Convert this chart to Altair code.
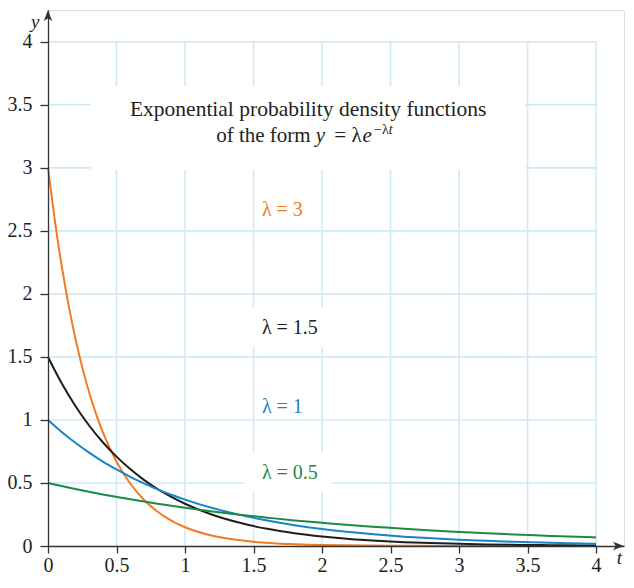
import altair as alt
import pandas as pd

# ---------------- data ----------------
t_l3 = [0, 0.05, 0.1, 0.15, 0.2, 0.25, 0.3, 0.35, 0.4, 0.5, 0.6, 0.7, 0.8, 0.9, 1.0,
        1.1, 1.2, 1.3, 1.4, 1.5, 1.6, 1.7, 1.8, 1.9, 2.0, 2.5, 3.0, 3.5, 4.0]
y_l3 = [3.0, 2.582, 2.222, 1.913, 1.646, 1.417, 1.220, 1.050, 0.904, 0.669, 0.496, 0.367,
        0.272, 0.202, 0.149, 0.111, 0.082, 0.061, 0.045, 0.033, 0.025, 0.018, 0.014,
        0.010, 0.007, 0.002, 0.0004, 0.0001, 0.0]

t_l15 = [0, 0.1, 0.2, 0.3, 0.4, 0.5, 0.6, 0.7, 0.8, 0.9, 1.0, 1.2, 1.4, 1.6, 1.8, 2.0,
         2.2, 2.4, 2.6, 2.8, 3.0, 3.2, 3.4, 3.6, 3.8, 4.0]
y_l15 = [1.5, 1.291, 1.111, 0.956, 0.823, 0.709, 0.610, 0.525, 0.452, 0.389, 0.335,
         0.248, 0.184, 0.136, 0.101, 0.075, 0.055, 0.041, 0.030, 0.023, 0.017, 0.012,
         0.009, 0.007, 0.005, 0.004]

t_l1 = [0, 0.1, 0.2, 0.3, 0.4, 0.5, 0.6, 0.7, 0.8, 0.9, 1.0, 1.2, 1.4, 1.6, 1.8, 2.0,
        2.2, 2.4, 2.6, 2.8, 3.0, 3.2, 3.4, 3.6, 3.8, 4.0]
y_l1 = [1.0, 0.905, 0.819, 0.741, 0.670, 0.607, 0.549, 0.497, 0.449, 0.407, 0.368,
        0.301, 0.247, 0.202, 0.165, 0.135, 0.111, 0.091, 0.074, 0.061, 0.050, 0.041,
        0.033, 0.027, 0.022, 0.018]

t_l05 = [0, 0.2, 0.4, 0.6, 0.8, 1.0, 1.2, 1.4, 1.6, 1.8, 2.0, 2.2, 2.4, 2.6, 2.8, 3.0,
         3.2, 3.4, 3.6, 3.8, 4.0]
y_l05 = [0.5, 0.452, 0.409, 0.370, 0.335, 0.303, 0.274, 0.248, 0.225, 0.203, 0.184,
         0.166, 0.151, 0.136, 0.123, 0.112, 0.101, 0.091, 0.083, 0.075, 0.068]

series_names = ["λ = 3", "λ = 1.5", "λ = 1", "λ = 0.5"]
series_colors = ["#f37a22", "#1e1e1e", "#1784c7", "#1a8a45"]

tick_values = [0, 0.5, 1, 1.5, 2, 2.5, 3, 3.5, 4]
grid_values = [0.5, 1, 1.5, 2, 2.5, 3, 3.5, 4]

# label positions (data units)
label_x = [1.561, 1.561, 1.561, 1.561]
label_y = [2.617, 1.68, 1.055, 0.531]

# white boxes behind text
box_x1 = [0.312, 1.43, 1.43]
box_x2 = [3.48, 2.07, 2.07]
box_y1 = [2.984, 1.578, 0.43]
box_y2 = [3.648, 1.89, 0.742]

X_MAX = 4.204
Y_MAX = 4.252
FONT = "Liberation Serif"
TXT = "#231f20"
GRID = "#cfeaf7"
AX = "#333333"

# ---------------- tables ----------------
rows = []
for name, ts, ys in zip(series_names, [t_l3, t_l15, t_l1, t_l05], [y_l3, y_l15, y_l1, y_l05]):
    for t, y in zip(ts, ys):
        rows.append({"series": name, "t": t, "y": y})
curves = pd.DataFrame(rows)

vgrid = pd.DataFrame({"gx": grid_values, "y0": 0, "y1": 4})
hgrid = pd.DataFrame({"gy": grid_values, "x0": 0, "x1": 4})
boxes = pd.DataFrame({"x1": box_x1, "x2": box_x2, "y1": box_y1, "y2": box_y2})
labels = pd.DataFrame({"x": label_x, "y": label_y, "text": series_names})

title_center = pd.DataFrame({"x": [1.899], "y": [3.41],
                             "text": ["Exponential probability density functions"]})
title_right = pd.DataFrame({"x": [1.917], "y": [3.203], "text": ["of the form"]})
title_left = pd.DataFrame({"x": [2.09, 2.215], "y": [3.203, 3.203], "text": ["=", "λ"]})
title_italic = pd.DataFrame({"x": [1.954, 2.295], "y": [3.203, 3.203], "text": ["y", "e"]})
title_sup = pd.DataFrame({"x": [2.38], "y": [3.265], "text": ["−λ"]})
title_sup_it = pd.DataFrame({"x": [2.487], "y": [3.265], "text": ["t"]})

axis_titles = pd.DataFrame({"x": [-0.094, 4.17], "y": [4.11, -0.145], "text": ["y", "t"]})
arrow_x = pd.DataFrame({"x": [X_MAX], "y": [0]})
arrow_y = pd.DataFrame({"x": [0], "y": [Y_MAX]})

xs = alt.Scale(domain=[0, X_MAX], nice=False, zero=False)
ys = alt.Scale(domain=[0, Y_MAX], nice=False, zero=False)

axis_common = dict(
    values=tick_values, format="~g", grid=False, title=None,
    labelFont=FONT, labelFontSize=20, labelColor=TXT,
    domainColor=AX, tickColor=AX, domainWidth=1.3, tickWidth=1.3,
    labelFlush=False, labelOverlap=False, zindex=2,
)
x_axis = alt.Axis(tickSize=7, labelPadding=2, **axis_common)
y_axis = alt.Axis(tickSize=8, labelPadding=8, **axis_common)


def X(field):
    return alt.X(field, type="quantitative", scale=xs, axis=x_axis)


def Y(field):
    return alt.Y(field, type="quantitative", scale=ys, axis=y_axis)


vg = alt.Chart(vgrid).mark_rule(color=GRID, strokeWidth=1.6).encode(
    x=X("gx"), y=Y("y0"), y2="y1")
hg = alt.Chart(hgrid).mark_rule(color=GRID, strokeWidth=1.6).encode(
    y=Y("gy"), x=X("x0"), x2="x1")
bx = alt.Chart(boxes).mark_rect(color="white").encode(
    x=X("x1"), x2="x2", y=Y("y1"), y2="y2")

lines = alt.Chart(curves).mark_line(strokeWidth=2, interpolate="monotone").encode(
    x=X("t"), y=Y("y"),
    color=alt.Color("series:N", scale=alt.Scale(domain=series_names, range=series_colors),
                    legend=None),
    detail="series:N",
)

lab = alt.Chart(labels).mark_text(font=FONT, fontSize=20, align="left",
                                  baseline="alphabetic").encode(
    x=X("x"), y=Y("y"), text="text:N",
    color=alt.Color("text:N", scale=alt.Scale(domain=series_names, range=series_colors),
                    legend=None),
)


def txt(df, align, size=21, style="normal"):
    return alt.Chart(df).mark_text(font=FONT, fontSize=size, fontStyle=style, color=TXT,
                                   align=align, baseline="alphabetic").encode(
        x=X("x"), y=Y("y"), text="text:N")


tc = txt(title_center, "center", size=21.5)
tr = txt(title_right, "right")
tl = txt(title_left, "left")
ti = txt(title_italic, "left", style="italic")
ts = txt(title_sup, "left", size=14)
tsi = txt(title_sup_it, "left", size=14, style="italic")

at = alt.Chart(axis_titles).mark_text(font=FONT, fontSize=19, fontStyle="italic", color=TXT,
                                      align="center", baseline="alphabetic").encode(
    x=X("x"), y=Y("y"), text="text:N")

ax_arrow = alt.Chart(arrow_x).mark_point(
    shape="M 0 0 L -1 -0.38 L -0.75 0 L -1 0.38 Z", filled=True, size=484,
    color=AX, opacity=1, strokeWidth=0).encode(x=X("x"), y=Y("y"))
ay_arrow = alt.Chart(arrow_y).mark_point(
    shape="M 0 0 L -0.38 1 L 0 0.75 L 0.38 1 Z", filled=True, size=484,
    color=AX, opacity=1, strokeWidth=0).encode(x=X("x"), y=Y("y"))

chart = alt.layer(vg, hg, bx, lines, lab, tc, tr, tl, ti, ts, tsi, at, ax_arrow, ay_arrow).properties(
    width=576, height=536,
    autosize=alt.AutoSizeParams(type="none"),
    padding={"left": 40, "top": 2, "right": 2, "bottom": 28},
).configure_view(stroke="transparent").configure(background="white")

chart.save("out.html", embed_options={"renderer": "svg", "actions": False})
